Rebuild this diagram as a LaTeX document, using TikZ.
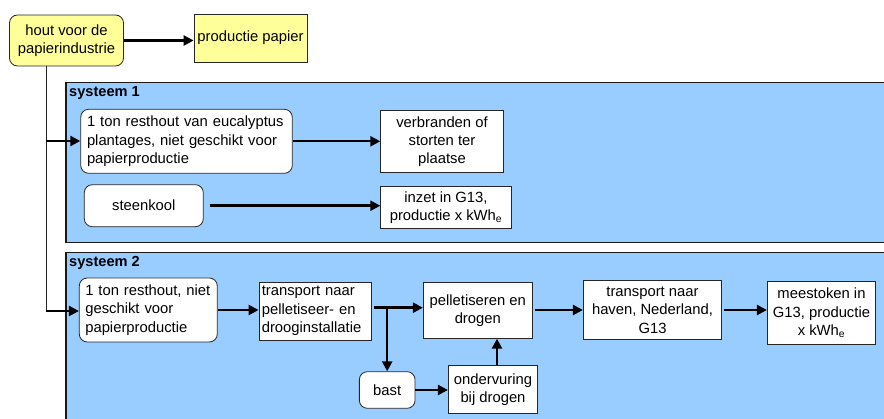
\documentclass[tikz,border=0pt]{standalone}
\usepackage{fontspec}
\setmainfont{Liberation Sans}
\usetikzlibrary{arrows.meta,calc}
\definecolor{pyellow}{HTML}{FFFF99}
\definecolor{pblue}{HTML}{99CCFF}
\begin{document}
\begin{tikzpicture}[x=1pt,y=-1pt,
  every node/.style={font=\fontsize{14.8}{18.3}\selectfont},
  bx/.style={draw=black!85,line width=0.8pt,fill=white,inner sep=0pt,align=center},
  rbx/.style={bx,rounded corners=8pt},
  sysbox/.style={draw=black!90,line width=1.3pt,fill=pblue,inner sep=0pt},
  syslabel/.style={anchor=west,inner sep=0pt,font=\fontsize{14.6}{17}\selectfont\bfseries},
  arr/.style={line width=2.4pt,-{Triangle[length=10pt,width=10pt]}},
  thin/.style={line width=0.8pt,draw=black!85}]
\useasboundingbox (0,0) rectangle (884,419);
% system frames
\node[sysbox,minimum width=830pt,minimum height=159.6pt] (sys1) at (481,162.5) {};
\node[syslabel] (s1lab) at (69,93.3) {systeem 1};
\node[sysbox,minimum width=830pt,minimum height=180pt] (sys2) at (481,342.7) {};
\node[syslabel] (s2lab) at (69,263.3) {systeem 2};
% top
\node[rbx,fill=pyellow,minimum width=114pt,minimum height=51pt] (hout) at (66.5,40.5) {hout voor de\\papierindustrie};
\node[bx,fill=pyellow,minimum width=113pt,minimum height=48pt] (pap) at (250.5,38) {productie papier};
% systeem 1
\node[rbx,minimum width=211.6pt,minimum height=64pt,text width=199pt,align=left] (b1) at (186.5,141.3) {1 ton resthout van eucalyptus\\plantages, niet geschikt voor\\papierproductie};
\node[bx,minimum width=122.6pt,minimum height=61.6pt] (verb) at (442,141.5) {verbranden of\\storten ter\\plaatse};
\node[rbx,minimum width=119pt,minimum height=42pt] (steen) at (143.8,205.7) {steenkool};
\node[bx,minimum width=130.6pt,minimum height=41.6pt] (inzet) at (446,207.5) {inzet in G13,\\productie x kWh\textsubscript{e}};
% systeem 2
\node[rbx,minimum width=138pt,minimum height=64pt,text width=126pt,align=left] (b2) at (148.3,310) {1 ton resthout, niet\\geschikt voor\\papierproductie};
\node[bx,minimum width=112.7pt,minimum height=58pt,text width=107pt,align=left] (trans) at (315.3,311) {transport naar\\pelletiseer- en\\drooginstallatie};
\node[bx,minimum width=109pt,minimum height=55.6pt] (pel) at (477.8,310.5) {pelletiseren en\\drogen};
\node[rbx,minimum width=55.7pt,minimum height=36.6pt] (bast) at (387.2,390) {bast};
\node[bx,minimum width=89.4pt,minimum height=47.6pt] (onder) at (493,389.5) {ondervuring\\bij drogen};
\node[bx,minimum width=138.4pt,minimum height=58.6pt] (haven) at (652.5,310) {transport naar\\haven, Nederland,\\G13};
\node[bx,minimum width=108.4pt,minimum height=62.6pt] (mee) at (821.5,313) {meestoken in\\G13, productie\\x kWh\textsubscript{e}};
% connectors
\coordinate (j1) at (46,141);
\coordinate (j2) at (46,311);
\coordinate (br) at (bast.north |- 0,307.7);
\draw[arr] (hout.east) -- (hout.east -| pap.west);
\draw[thin] (hout.south -| j1) -- (j2);
\draw[arr] (j1) -- (j1 -| b1.west);
\draw[arr] (j2) -- (j2 -| b2.west);
\draw[arr] (b1.east) -- (b1.east -| verb.west);
\draw[arr] ([xshift=6pt]steen.east) -- (steen.east -| inzet.west);
\draw[arr] (b2.east) -- (b2.east -| trans.west);
\draw[arr] ([xshift=2pt]trans.east |- br) -- (br -| pel.west);
\draw[arr] (br) -- (bast.north);
\draw[arr] (bast.east) -- (bast.east -| onder.west);
\draw[arr] ([xshift=4pt]onder.north) -- ([xshift=4pt]onder.north |- pel.south);
\draw[arr] ([xshift=2pt]pel.east |- haven.east) -- (haven.west);
\draw[arr] ([xshift=2pt]haven.east) -- (haven.east -| mee.west);
\end{tikzpicture}
\end{document}
